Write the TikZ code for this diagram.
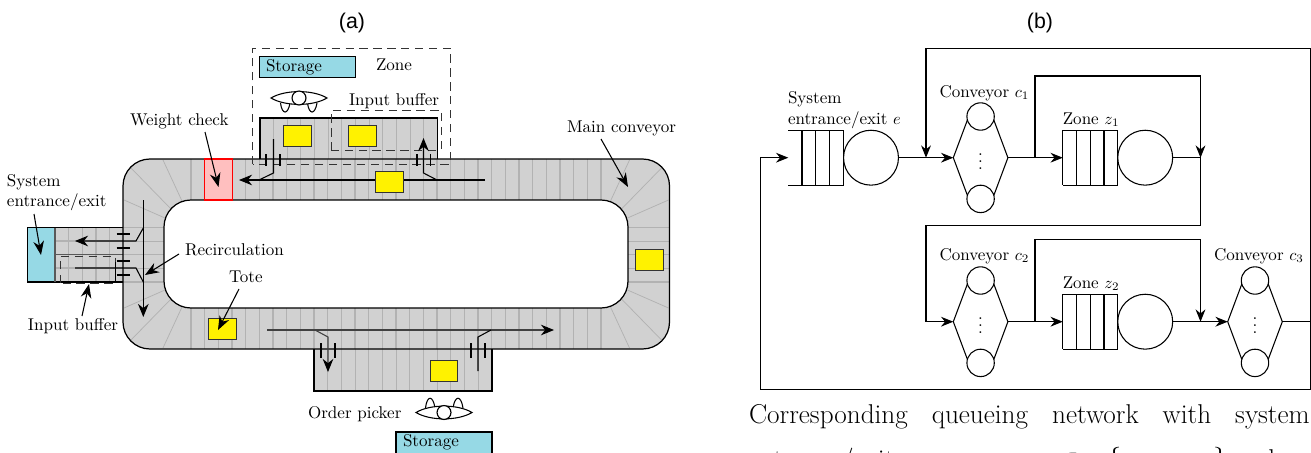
\documentclass[tikz,border=0pt]{standalone}
\usepackage{fontspec}
\newfontfamily\labelsans{Liberation Sans}
\usetikzlibrary{arrows.meta}
\definecolor{beltgray}{gray}{0.82}
\definecolor{slatgray}{gray}{0.70}
\definecolor{storecol}{HTML}{96D9E5}
\newcommand{\lbsize}{\fontsize{10.4}{12.5}\selectfont}
\tikzset{
  x=0.61pt,y=-0.61pt,
  every node/.style={inner sep=0pt,outer sep=0pt},
  outl/.style={draw=black,line width=0.75pt},
  slat/.style={draw=slatgray,line width=0.75pt},
  radial/.style={draw=slatgray,line width=0.45pt},
  tote/.style={fill=yellow,draw=black!80,line width=0.6pt},
  store/.style={fill=storecol,draw=black,line width=0.75pt},
  zonebox/.style={draw=black!80,line width=0.6pt,dash pattern=on 5pt off 3.5pt},
  lab/.style={font=\lbsize,anchor=base west},
  bar/.style={draw=black,line width=1.1pt},
  flow/.style={draw=black,line width=0.65pt},
  tip/.style={-{Stealth[length=8pt,width=6.5pt]}},
  labarrow/.style={draw=black,line width=0.65pt,-{Stealth[length=8.5pt,width=6.5pt]}},
  net/.style={draw=black,line width=0.65pt},
  nettip/.style={-{Stealth[length=7.5pt,width=6pt]}},
  qline/.style={draw=black,line width=0.65pt},
  captxt/.style={anchor=base west,font=\fontsize{16.6}{19}\selectfont},
  capsans/.style={font=\labelsans\fontsize{13}{15}\selectfont},
}
\begin{document}
\begin{tikzpicture}
\useasboundingbox (0,0) rectangle (1311,452);
\clip (0,0) rectangle (1311,452);
% ---- side boxes
\fill[beltgray] (260,118) rectangle (437.5,159);
\fill[beltgray] (314,349) rectangle (492,391);
\fill[beltgray] (55,227.5) rectangle (123,282);
% ---- main belt
\fill[beltgray,rounded corners=16.47pt] (123,159) rectangle (669.5,349);
\fill[white,rounded corners=16.47pt] (164,200) rectangle (628,308);
% slats on belt
\foreach \i in {0,...,30}{
  \pgfmathsetmacro{\xx}{191+13.667*\i}
  \draw[slat] (\xx,159) -- (\xx,200);
  \draw[slat] (\xx,308) -- (\xx,349);
}
\foreach \i in {0,...,4}{
  \pgfmathsetmacro{\yy}{227.5+13.63*\i}
  \draw[slat] (123,\yy) -- (164,\yy);
  \draw[slat] (628,\yy) -- (669.5,\yy);
}
% radial corner slats
\foreach \sx/\ox in {1/0,-1/792.5}{
  \foreach \sy/\oy in {1/0,-1/508}{
    \begin{scope}[shift={(\ox,\oy)},xscale=\sx,yscale=\sy]
      \draw[radial] (163,160) -- (182,201);
      \draw[radial] (131,168) -- (171,209);
      \draw[radial] (124,200) -- (165,218);
    \end{scope}
  }
}
% slats on side boxes
\foreach \i in {0,...,12}{
  \pgfmathsetmacro{\xx}{273.5+13.667*\i}
  \draw[slat] (\xx,118) -- (\xx,159);
  \pgfmathsetmacro{\xy}{327.8+13.667*\i}
  \draw[slat] (\xy,349) -- (\xy,391);
}
\foreach \xx in {68.5,82.2,96,109.5}{ \draw[slat] (\xx,227.5) -- (\xx,282); }
\draw[slat] (55,241) -- (123,241);
\draw[slat] (55,268) -- (123,268);
\draw[draw=black!65,line width=0.75pt] (55,254.7) -- (123,254.7);
% belt outlines
\draw[outl,rounded corners=16.47pt] (123,159) rectangle (669.5,349);
\draw[outl,rounded corners=16.47pt] (164,200) rectangle (628,308);
\draw[outl] (260,159) -- (260,118) -- (437.5,118) -- (437.5,159);
\draw[outl] (314,349) -- (314,391) -- (492,391) -- (492,349);
% side box left
\path[store] (27.5,227.5) rectangle (55,282);
\draw[outl] (55,227.5) -- (123,227.5);
\draw[outl] (55,282) -- (123,282);
\draw[draw=black!65,line width=0.75pt] (55,227.5) -- (55,282);
% weight check
\path[fill=pink,draw=red,line width=0.7pt] (204.5,159) rectangle (232.5,200);
% totes
\path[tote] (283,125) rectangle (311,146);
\path[tote] (348,125) rectangle (376,146);
\path[tote] (635,249.5) rectangle (663,270.5);
\path[tote] (208,318) rectangle (236,339);
\path[tote] (430,360.5) rectangle (457,381.5);
% storage
\path[store] (259.5,56.5) rectangle (355.5,77.5);
\path[store] (396,432) rectangle (492,470);
\node[lab] (storeA) at (266,71) {Storage};
\node[lab] (storeB) at (403,446) {Storage};
\node[lab] (zonelab) at (376,70) {Zone};
% dashed boxes
\draw[zonebox] (252.5,164) -- (252.5,48) -- (450.5,48) -- (450.5,164) -- cycle;
\draw[zonebox] (331.5,150.5) -- (331.5,110) -- (441,110) -- (441,150.5) -- cycle;
\draw[zonebox] (60,283) -- (60,256) -- (115,256) -- (115,283) -- cycle;
% flow lines top
\draw[flow,tip] (485,180) -- (239,180);
\draw[flow] (273.5,139) -- (273.5,173) -- (259,180);
\draw[flow,tip] (437,180) -- (423.5,173) -- (423.5,138);
\draw[bar] (266,154) -- (266,165.5);
\draw[bar] (280,154) -- (280,165.5);
\draw[bar] (417,154) -- (417,165.5);
\draw[bar] (430.5,154) -- (430.5,165.5);
\path[tote] (375.5,171) rectangle (403.5,192);
% flow lines bottom
\draw[flow,black!75,-{Stealth[length=8pt,width=6.5pt,black]}] (267,330) -- (554,330);
\draw[flow,black!75,-{Stealth[length=8pt,width=6.5pt,black]}] (315,330) -- (328,337) -- (328,372);
\draw[flow] (491,330) -- (478,337) -- (478,371);
\draw[bar] (321,343) -- (321,358);
\draw[bar] (335,343) -- (335,358);
\draw[bar] (471,343) -- (471,358);
\draw[bar] (485,343) -- (485,358);
% flow lines left
\draw[flow,tip] (143.3,200) -- (143.3,317);
\draw[flow,tip] (143.3,228) -- (136,241) -- (75,241);
\draw[flow] (143.3,282) -- (136,268) -- (75,268);
\foreach \yy in {234,248,261,275}{ \draw[bar] (116.5,\yy) -- (129.5,\yy); }
\draw[draw=black,line width=0.6pt] (115,262) -- (115,283);
% operators
\draw[outl,line width=0.65pt,fill=white] (280.5,103) .. controls (282,115) and (288,115) .. (290,103);
\draw[outl,line width=0.65pt,fill=white] (307.5,103) .. controls (309,115) and (315,115) .. (317,103);
\draw[outl,line width=0.65pt,fill=white] (271,98) .. controls (285,89.5) and (313,89.5) .. (327,98) .. controls (313,106.5) and (285,106.5) .. cycle;
\node[draw=black,line width=0.7pt,fill=white,circle,minimum size=8.5pt] (opTop) at (299,98) {};
\draw[outl,line width=0.65pt,fill=white] (425.5,408) .. controls (427,395) and (433,395) .. (435,408);
\draw[outl,line width=0.65pt,fill=white] (453,408) .. controls (455,395) and (461,395) .. (463,408);
\draw[outl,line width=0.65pt,fill=white] (416,412.5) .. controls (430,404) and (458,404) .. (472,412.5) .. controls (458,421) and (430,421) .. cycle;
\node[draw=black,line width=0.7pt,fill=white,circle,minimum size=8.5pt] (opBot) at (444,412.5) {};
% labels a
\node[capsans] (capa) at (352,23) {(a)};
\node[capsans] (capb) at (1040,23) {(b)};
\node[lab] (wc) at (130,125) {Weight check};
\node[lab] (mc) at (567,132) {Main conveyor};
\node[lab] (sys1) at (7,186) {System};
\node[lab] (sys2) at (7,206) {entrance/exit};
\node[lab] (rec) at (185,255) {Recirculation};
\node[lab] (totel) at (229,282) {Tote};
\node[lab] (ib1) at (28,330) {Input buffer};
\node[lab] (ib2) at (349,105) {Input buffer};
\node[lab] (op) at (308,418) {Order picker};
\coordinate (wcT) at (218.5,187);
\coordinate (mcT) at (628,187);
\coordinate (sysT) at (41,255);
\coordinate (recT) at (145,275);
\coordinate (toteT) at (218,330);
\coordinate (ibT) at (89,284);
\draw[labarrow] (205,132) -- (wcT);
\draw[labarrow] (601,139) -- (mcT);
\draw[labarrow] (34,214) -- (sysT);
\draw[labarrow] (179,254) -- (recT);
\draw[labarrow] (239,289) -- (toteT);
\draw[labarrow] (82,316) -- (ibT);
% ================= part (b)
\newcommand{\queuebox}[3]{% name, left x, centre y
  \coordinate (#1L) at (#2,#3);
  \coordinate (#1R) at (#2+54.9,#3);
  \draw[qline] (#2,#3-27.5) -- (#2+54.9,#3-27.5) -- (#2+54.9,#3+27.5) -- (#2,#3+27.5);
  \foreach \d in {13.7,27.4,41.2}{ \draw[qline] (#2+\d,#3-27.5) -- (#2+\d,#3+27.5); }
}
\newcommand{\convshape}[3]{% name, centre x, centre y
  \coordinate (#1L) at (#2-27.3,#3);
  \coordinate (#1R) at (#2+27.3,#3);
  \node[draw=black,line width=0.65pt,circle,minimum size=16.7pt] (#1a) at (#2,#3-41.2) {};
  \node[draw=black,line width=0.65pt,circle,minimum size=16.7pt] (#1b) at (#2,#3+41.2) {};
  \draw[qline] (#1a.195) -- (#1L) -- (#1b.165);
  \draw[qline] (#1a.-15) -- (#1R) -- (#1b.15);
  \node[font=\lbsize] (#1d) at (#2,#3-1) {$\vdots$};
}
\queuebox{qe}{788.3}{157.7}
\node[draw=black,line width=0.65pt,circle,minimum size=33.5pt] (se) at (871,157.7) {};
\queuebox{qa}{1062.8}{157.7}
\draw[qline] (1062.8,130.2) -- (1062.8,185.2);
\node[draw=black,line width=0.65pt,circle,minimum size=33.5pt] (sa) at (1145.2,157.7) {};
\queuebox{qb}{1062.8}{321.7}
\draw[qline] (1062.8,294.2) -- (1062.8,349.2);
\node[draw=black,line width=0.65pt,circle,minimum size=33.5pt] (sb) at (1145.2,321.7) {};
\convshape{ca}{980.6}{157.7}
\convshape{cb}{980.6}{321.7}
\convshape{cc}{1255}{321.7}
\coordinate (j1) at (926,157.7);
\coordinate (j2) at (1035,157.7);
\coordinate (j3) at (1200.5,157.7);
\coordinate (j4) at (1035,321.7);
\coordinate (j5) at (1200.5,321.7);
\coordinate (j6) at (926,321.7);
\draw[net] (se) -- (j1);
\draw[net,nettip] (j1) -- (caL);
\draw[net,nettip] (caR) -- (qaL);
\draw[net] (sa) -- (j3);
\draw[net,nettip] (1310.3,321.7) |- (760.9,389.3) -- (760.9,157.7) -- (qeL);
\draw[net,nettip] (1310.3,321.7) |- (926,48.7) -- (j1);
\draw[net,nettip] (j2) -- (1035,76) -- (1200.5,76) -- (j3);
\draw[net] (j3) -- (1200.5,225.3) -- (926,225.3) -- (j6);
\draw[net,nettip] (j6) -- (cbL);
\draw[net,nettip] (cbR) -- (qbL);
\draw[net,nettip] (j4) -- (1035,239.7) -- (1200.5,239.7) -- (j5);
\draw[net,nettip] (sb) -- (ccL);
\draw[net] (ccR) -- (1310.3,321.7);
\node[lab] (sb1) at (788,103) {System};
\node[lab] (sb2) at (788,124) {entrance/exit $e$};
\node[lab] (ccaL) at (939.5,97) {Conveyor $c_1$};
\node[lab] (ccbL) at (939.5,260.5) {Conveyor $c_2$};
\node[lab] (cccL) at (1214,260.5) {Conveyor $c_3$};
\node[lab] (zaL) at (1062.8,124) {Zone $z_1$};
\node[lab] (zbL) at (1062.8,288) {Zone $z_2$};
% caption
\node[captxt] (cap1) at (749,423) {\makebox[342pt][s]{Corresponding queueing network with system}};
\node[captxt] (cap2a) at (749,468) {\makebox[186pt][s]{entrance/exit queue $e$, conveyors $c$}};
\node[captxt] (cap2b) at (1060,468) {$\in$};
\node[captxt] (cap2c) at (1107,468) {$\{c_1,c_2,c_3\}$};
\node[captxt] (cap2d) at (1235,468) {and};
\end{tikzpicture}
\end{document}
